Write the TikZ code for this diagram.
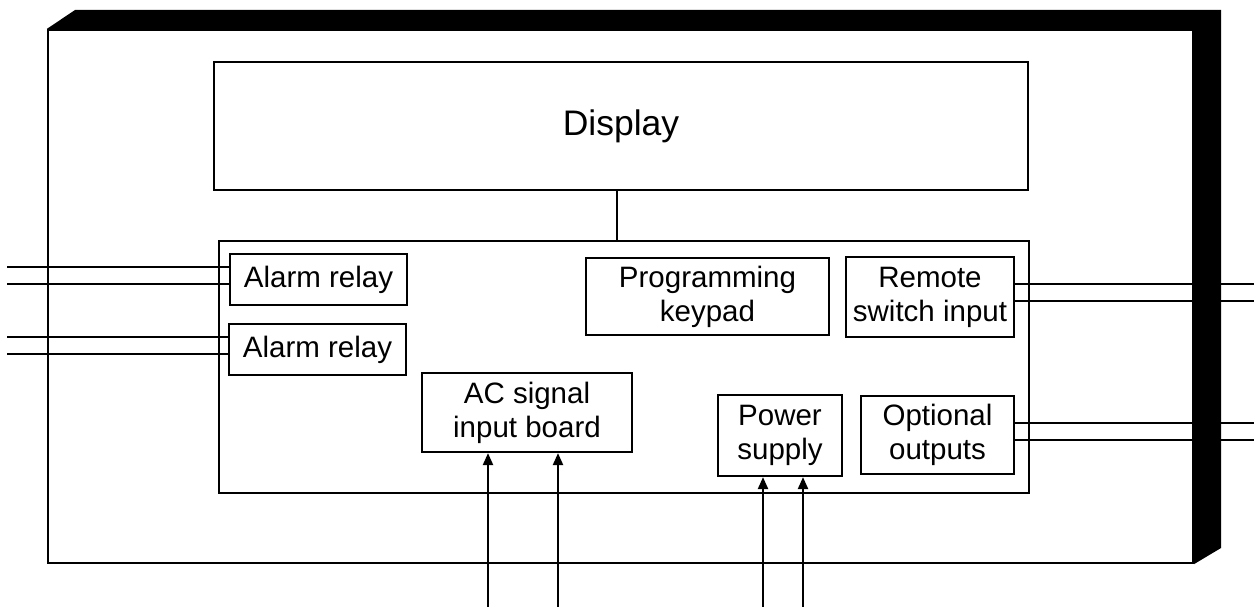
\documentclass[tikz,border=0pt]{standalone}
\usepackage{fontspec}
\setmainfont{Liberation Sans}
\usetikzlibrary{arrows.meta}
\tikzset{
  box/.style={draw, line width=2.2pt, inner sep=0pt, align=center,
    font=\fontsize{29.5}{34}\selectfont},
  wire/.style={line width=2.2pt},
  inarrow/.style={line width=2.2pt, -{Triangle[width=10pt,length=12pt]}}
}
\begin{document}
\begin{tikzpicture}[x=1pt,y=-1pt]
\useasboundingbox (0,0) rectangle (1254,607);
% front face of the cabinet
\node[draw, line width=2.2pt, minimum width=1145pt, minimum height=533pt, inner sep=0pt] (front) at (620.5,296.5) {};
% display and main board
\node[box, minimum width=814pt, minimum height=128pt, font=\fontsize{35.5}{40}\selectfont] (display) at (621,126) {Display};
\node[box, minimum width=810pt, minimum height=252pt] (board) at (624,367) {};
% modules
\node[box, minimum width=177pt, minimum height=51pt] (alarm1) at (318.5,279.5) {Alarm relay};
\node[box, minimum width=177pt, minimum height=51pt] (alarm2) at (317.5,349.5) {Alarm relay};
\node[box, minimum width=243pt, minimum height=77pt] (keypad) at (707.5,296.5) {Programming\\keypad};
\node[box, minimum width=168pt, minimum height=80pt] (remote) at (930,297) {Remote\\switch input};
\node[box, minimum width=210pt, minimum height=79pt] (ac) at (527,412.5) {AC signal\\input board};
\node[box, minimum width=124pt, minimum height=81pt] (power) at (780,435.5) {Power\\supply};
\node[box, minimum width=153pt, minimum height=78pt] (optional) at (937.5,435) {Optional\\outputs};
% display to board
\coordinate (dl) at (617,0);
\draw[wire] (dl |- display.south) -- (dl |- board.north);
% left wires
\coordinate (a1w1) at (7,267);
\coordinate (a1w2) at (7,284);
\coordinate (a2w1) at (7,337);
\coordinate (a2w2) at (7,354);
\draw[wire] (a1w1) -- (a1w1 -| alarm1.west);
\draw[wire] (a1w2) -- (a1w2 -| alarm1.west);
\draw[wire] (a2w1) -- (a2w1 -| alarm2.west);
\draw[wire] (a2w2) -- (a2w2 -| alarm2.west);
% right wires
\coordinate (rw1) at (1254,284);
\coordinate (rw2) at (1254,301);
\coordinate (ow1) at (1254,423);
\coordinate (ow2) at (1254,440);
\draw[wire] (rw1 -| remote.east) -- (rw1);
\draw[wire] (rw2 -| remote.east) -- (rw2);
\draw[wire] (ow1 -| optional.east) -- (ow1);
\draw[wire] (ow2 -| optional.east) -- (ow2);
% bottom input arrows
\coordinate (b1) at (488,607);
\coordinate (b2) at (558,607);
\coordinate (b3) at (763,607);
\coordinate (b4) at (803,607);
\draw[inarrow] (b1) -- (b1 |- ac.south);
\draw[inarrow] (b2) -- (b2 |- ac.south);
\draw[inarrow] (b3) -- (b3 |- power.south);
\draw[inarrow] (b4) -- (b4 |- power.south);
% black depth of the cabinet
\fill[black] (front.north west) -- (75,10) -- (1221,10) -- (1221,548) -- (front.south east) -- (front.north east) -- cycle;
\end{tikzpicture}
\end{document}
